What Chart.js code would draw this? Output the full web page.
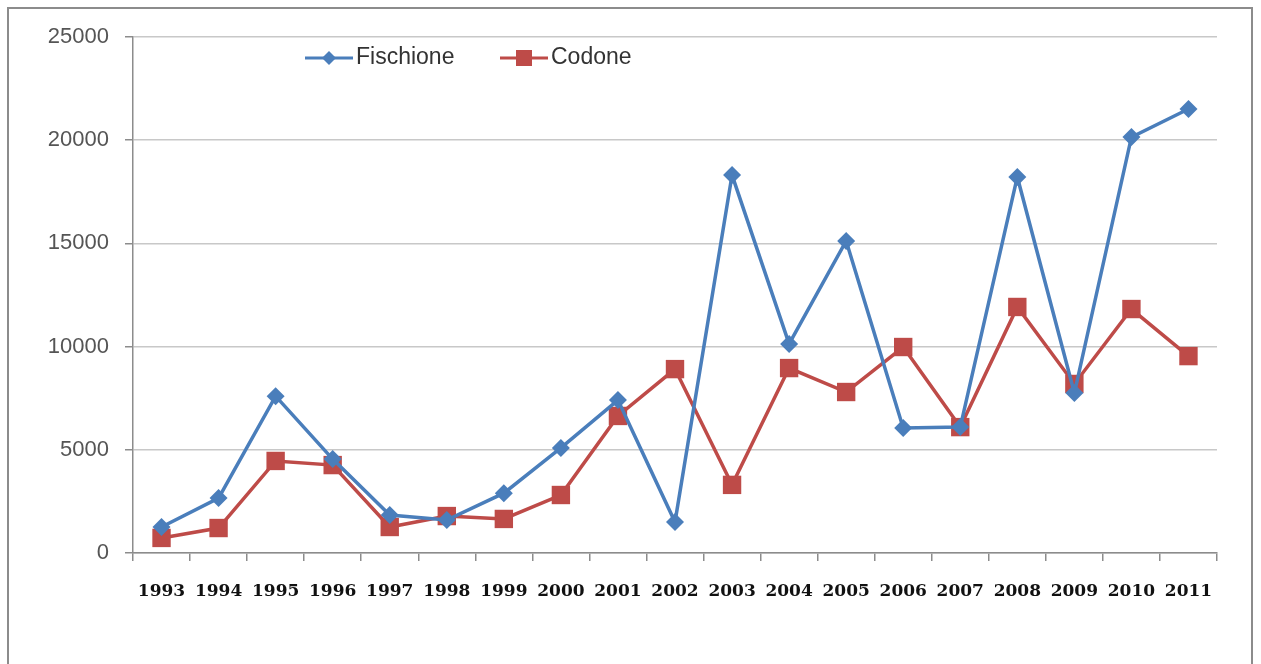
<!DOCTYPE html>
<html>
<head>
<meta charset="utf-8">
<script src="https://cdn.jsdelivr.net/npm/chart.js@4.4.0/dist/chart.umd.min.js"></script>
<style>
  html, body { margin: 0; padding: 0; background: #fff; }
  #wrap { position: relative; width: 1261px; height: 664px; }
  #frame { position: absolute; left: 7px; top: 7px; width: 1246px; height: 670px;
           border: 2px solid #8c8c8c; border-bottom: none; box-sizing: border-box; }
  canvas { position: absolute; left: 0; top: 0; }
</style>
</head>
<body>
<div id="wrap">
  <div id="frame"></div>
  <canvas id="chart" width="1261" height="664"></canvas>
</div>
<script>
// data
var years = ['1993','1994','1995','1996','1997','1998','1999','2000','2001','2002',
             '2003','2004','2005','2006','2007','2008','2009','2010','2011'];
var fischione = [1260, 2660, 7600, 4550, 1840, 1600, 2900, 5090, 7410, 1500,
                 18310, 10130, 15120, 6060, 6100, 18220, 7750, 20150, 21510];
var codone = [730, 1210, 4460, 4260, 1260, 1790, 1650, 2810, 6640, 8910,
              3300, 8960, 7800, 9980, 6100, 11920, 8190, 11820, 9540];
var yTicks = [0, 5000, 10000, 15000, 20000, 25000];

var blue = '#4a7ebb';
var red = '#be4b48';

// legend drawn inside the plot, like the original
var insideLegend = {
   id: 'insideLegend',
   afterDraw: function (chart) {
       var ctx = chart.ctx;
       var spots = [305, 500];
       chart.data.datasets.forEach(function (ds, i) {
           var x = spots[i], y = 58;
           ctx.save();
           ctx.strokeStyle = ds.borderColor;
           ctx.lineWidth = 3;
           ctx.beginPath();
           ctx.moveTo(x, y);
           ctx.lineTo(x + 48, y);
           ctx.stroke();
           ctx.fillStyle = ds.backgroundColor;
           var cx = x + 24;
           if (ds.pointStyle === 'rectRot') {
               ctx.beginPath();
               ctx.moveTo(cx, y - 7);
               ctx.lineTo(cx + 7, y);
               ctx.lineTo(cx, y + 7);
               ctx.lineTo(cx - 7, y);
               ctx.closePath();
               ctx.fill();
           } else {
               ctx.fillRect(cx - 8, y - 8, 16, 16);
           }
           ctx.fillStyle = '#333';
           ctx.font = '23px "Liberation Sans", Arial, sans-serif';
           ctx.textBaseline = 'middle';
           ctx.fillText(ds.label, x + 51, y);
           ctx.restore();
       });
   }
};

var ctx = document.getElementById('chart').getContext('2d');
new Chart(ctx, {
   type: 'line',
   data: {
       labels: years,
       datasets: [{
           label: 'Fischione',
           data: fischione,
           borderColor: blue,
           backgroundColor: blue,
           borderWidth: 3.5,
           pointStyle: 'rectRot',
           pointRadius: 9,
           pointBorderWidth: 0,
           tension: 0
       }, {
           label: 'Codone',
           data: codone,
           borderColor: red,
           backgroundColor: red,
           borderWidth: 3.5,
           pointStyle: 'rect',
           pointRadius: 13,
           pointBorderWidth: 0,
           tension: 0
       }]
   },
   options: {
       responsive: false,
       animation: false,
       layout: { padding: { left: 0, right: 44, top: 37, bottom: 51 } },
       plugins: {
           legend: { display: false },
           tooltip: { enabled: false }
       },
       scales: {
           x: {
               offset: true,
               grid: {
                   display: true,
                   offset: true,
                   drawOnChartArea: false,
                   tickLength: 8,
                   color: '#8c8c8c',
                   lineWidth: 1.5
               },
               border: { color: '#8c8c8c', width: 1.5 },
               ticks: {
                   color: '#111',
                   padding: 20,
                   maxRotation: 0,
                   autoSkip: false,
                   font: { family: '"DejaVu Serif", serif', size: 17, weight: 'bold' }
               },
               afterFit: function (scale) { scale.height = 60; }
           },
           y: {
               min: 0,
               max: 25000,
               afterBuildTicks: function (scale) {
                   scale.ticks = yTicks.map(function (v) { return { value: v }; });
               },
               grid: {
                   color: '#c8c8c8',
                   lineWidth: 1.5,
                   tickLength: 8,
                   tickColor: '#8c8c8c'
               },
               border: { color: '#8c8c8c', width: 1.5 },
               ticks: {
                   color: '#555',
                   padding: 16,
                   font: { family: '"Liberation Sans", Arial, sans-serif', size: 22 },
                   callback: function (v) { return String(v); }
               },
               afterFit: function (scale) { scale.width = 133; }
           }
       }
   },
   plugins: [insideLegend]
});
</script>
</body>
</html>
